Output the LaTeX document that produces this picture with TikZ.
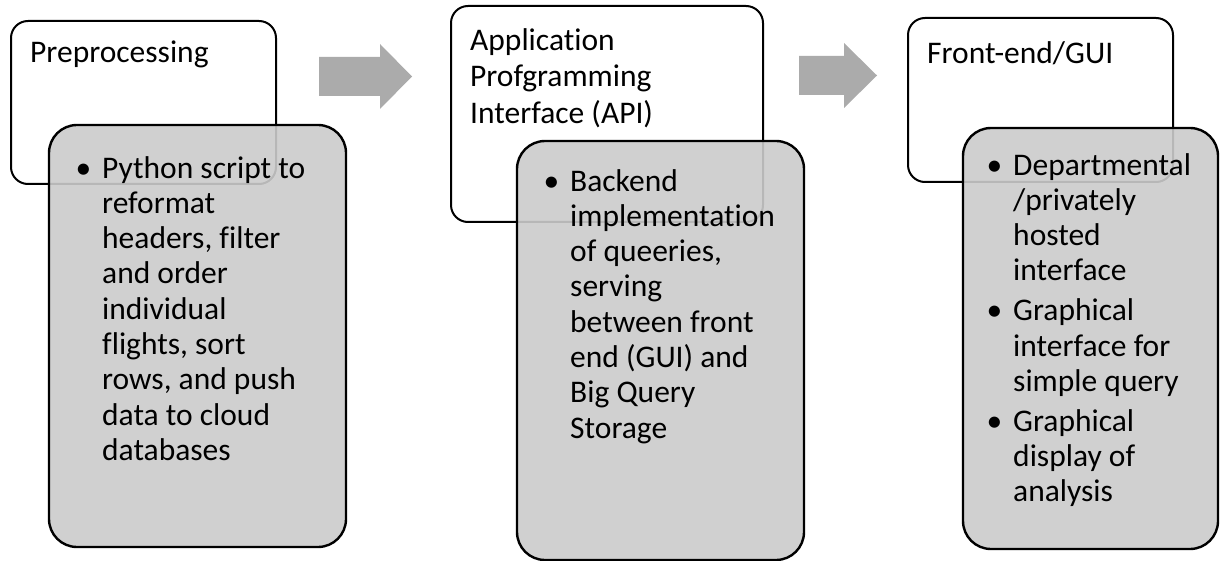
\documentclass[tikz,border=0pt]{standalone}
\usepackage{fontspec}
\setmainfont{Carlito}[Ligatures=NoCommon]
\usepackage{tikz}

\definecolor{detailgray}{RGB}{203,203,203}
\definecolor{arrowgray}{RGB}{171,171,171}
\newcommand{\itembul}{\llap{\textbullet\hspace{11pt}}}

\begin{document}
\begin{tikzpicture}[x=1pt,y=-1pt,font=\fontsize{31.5pt}{35.3pt}\selectfont]
                \tikzstyle{stage box}=[rectangle,rounded corners=17pt,draw,line width=2pt,fill=white,inner sep=0]
                \tikzstyle{detail box}=[rectangle,rounded corners=28pt,draw,line width=2.4pt,fill=detailgray,fill opacity=0.9,inner sep=0]
                \tikzstyle{stage arrow}=[fill=arrowgray]
                % text nodes hang from a 24pt strut, so y = first baseline - 24
                \tikzstyle{box text}=[anchor=north west,align=left,inner sep=0,execute at begin node={\rule{0pt}{24pt}}]
                \useasboundingbox (0,0) rectangle (1220,561);
                % top boxes
                \node[stage box,minimum width=265,minimum height=163] (pre) at (143.5,102.5) {};
                \node[stage box,minimum width=312,minimum height=216] (api) at (607,114) {};
                \node[stage box,minimum width=265,minimum height=164] (gui) at (1040.5,100) {};
                \node[box text] (pre title) at (30,38) {Preprocessing};
                \node[box text] (api title) at (470,28) {Application\\[1.2pt]Profgramming\\[1.2pt]Interface (API)};
                \node[box text] (gui title) at (927,39) {Front-end/GUI};
                % arrows between stages
                \fill[stage arrow] (319,57) -- (380,57) -- (380,44) -- (412,76.5) -- (380,109) -- (380,96) -- (319,96) -- cycle;
                \fill[stage arrow] (799,56) -- (844,56) -- (844,43) -- (877,75.5) -- (844,108) -- (844,95) -- (799,95) -- cycle;
                % detail boxes
                \node[detail box,minimum width=297,minimum height=422] (pre detail) at (197.5,336) {};
                \node[detail box,minimum width=287,minimum height=419] (api detail) at (660.5,350.5) {};
                \node[detail box,minimum width=255,minimum height=421] (gui detail) at (1090.5,338.5) {};
                \node[box text] (pre list) at (102,156) {\itembul Python script to\\reformat\\headers, filter\\and order\\individual\\flights, sort\\rows, and push\\data to cloud\\databases};
                \node[box text] (api list) at (570,169) {\itembul Backend\\implementation\\of queeries,\\serving\\between front\\end (GUI) and\\Big Query\\Storage};
                \node[box text] (gui list) at (1013,153) {\itembul Departmental\\/privately\\hosted\\interface\\[4.5pt]\itembul Graphical\\interface for\\simple query\\[4.5pt]\itembul Graphical\\display of\\analysis};
            \end{tikzpicture}
\end{document}
